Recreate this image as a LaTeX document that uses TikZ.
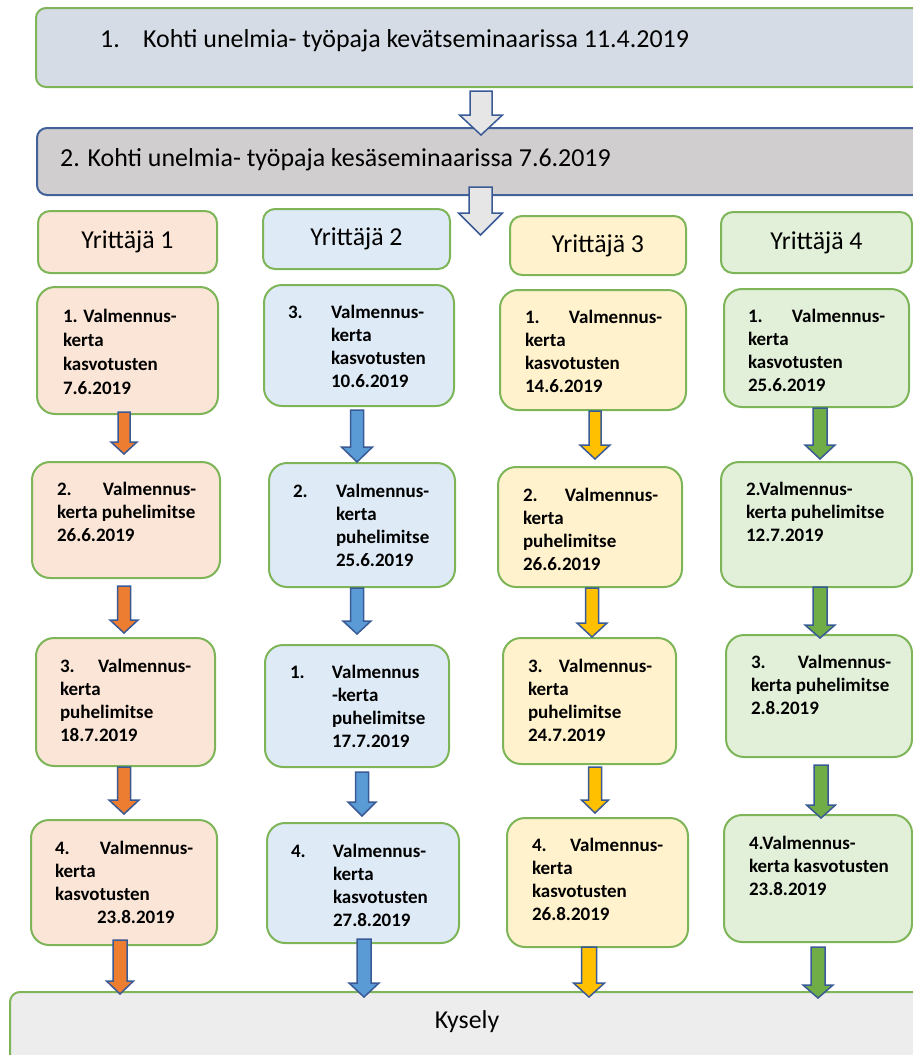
\documentclass[tikz,border=0pt]{standalone}
\usepackage{fontspec}
\setmainfont{Carlito}
\usetikzlibrary{calc}

\definecolor{frame}{HTML}{7DB558}
\definecolor{edgeblue}{HTML}{42609A}
\definecolor{arrowedge}{HTML}{3A5A96}
\definecolor{springfill}{HTML}{D6DCE5}
\definecolor{summerfill}{HTML}{D0CECE}
\definecolor{surveyfill}{HTML}{EDEDED}
\definecolor{hollowfill}{HTML}{E7E6E6}
\definecolor{peach}{HTML}{FBE5D6}
\definecolor{skyblue}{HTML}{DEEBF7}
\definecolor{cream}{HTML}{FFF2CC}
\definecolor{mint}{HTML}{E2F0D9}
\definecolor{arrorange}{HTML}{ED7D31}
\definecolor{arrblue}{HTML}{5B9BD5}
\definecolor{arrgold}{HTML}{FFC000}
\definecolor{arrgreen}{HTML}{70AD47}

% rectangle node given by its corners: name, x1, y1, x2, y2, style
\newcommand\card[6]{%
  \node[#6, minimum width={#4-#2}, minimum height={#5-#3}] (#1)
    at ({(#2+#4)/2},{(#3+#5)/2}) {};}
% block arrow: start, tip, fill, shaft half width, head half width, head length
\newcommand\flowarrow[6]{%
  \path[draw=arrowedge, line width=1.5pt, fill=#3, line join=miter]
    let \p1=(#1), \p2=(#2) in
    (\x1-#4,\y1) -- (\x1+#4,\y1) -- (\x1+#4,\y2+#6) -- (\x1+#5,\y2+#6)
    -- (\x1,\y2) -- (\x1-#5,\y2+#6) -- (\x1-#4,\y2+#6) -- cycle;}
% multi-line step text, anchored at the first baseline
\newcommand\steptext[4]{%
  \node[steptxt] (#1) at (#2,#3) {\begin{tabular}[t]{@{}l@{}}#4\end{tabular}};}
\newcommand\lead[2]{\makebox[#2pt][l]{#1}}
\newcommand\ind[1]{\hspace*{#1pt}}

\tikzset{
  phase/.style={draw=frame, line width=2pt, rounded corners=10pt, inner sep=0pt, outer sep=0pt},
  founder/.style={draw=frame, line width=2pt, rounded corners=12pt, inner sep=0pt, outer sep=0pt,
    font=\fontsize{25.8}{30}\selectfont},
  stepbox/.style={draw=frame, line width=2pt, rounded corners=18pt, inner sep=0pt, outer sep=0pt},
  steptxt/.style={anchor=base west, inner sep=0pt, outer sep=0pt,
    font=\fontsize{19}{23.2}\selectfont\bfseries},
  headtxt/.style={anchor=base west, inner sep=0pt, font=\fontsize{25.9}{30}\selectfont},
}

\begin{document}
\begin{tikzpicture}[x=1pt, y=-1pt]
\useasboundingbox (0,0) rectangle (913,1055);
\clip (0,0) rectangle (913,1055);

% seminars
\card{spring}{36}{8}{940}{87}{phase, fill=springfill}
\node[headtxt] (springtxt) at (100,47) {\makebox[43pt][l]{1.}Kohti unelmia- työpaja kevätseminaarissa 11.4.2019};
\card{summer}{37}{128}{940}{195}{phase, draw=edgeblue, fill=summerfill}
\node[headtxt] (summertxt) at (60,166) {2. Kohti unelmia- työpaja kesäseminaarissa 7.6.2019};

% entrepreneurs
\node[founder, fill=peach, minimum width=179pt, minimum height=62pt] (y1) at (127.5,242) {Yrittäjä 1};
\node[founder, fill=skyblue, minimum width=187pt, minimum height=60pt] (y2) at (356.5,239) {Yrittäjä 2};
\node[founder, fill=cream, minimum width=176pt, minimum height=59pt] (y3) at (598,245.5) {Yrittäjä 3};
\node[founder, fill=mint, minimum width=191pt, minimum height=61pt] (y4) at (816.5,242.5) {Yrittäjä 4};

% column 1
\card{a1}{37}{287}{218}{414}{stepbox, fill=peach}
\card{a2}{32}{462}{220}{578}{stepbox, fill=peach}
\card{a3}{36}{638}{215}{766}{stepbox, fill=peach}
\card{a4}{31}{820}{217}{945}{stepbox, fill=peach}
% column 2
\card{b1}{264}{285}{454}{406}{stepbox, fill=skyblue}
\card{b2}{269}{463}{455}{587}{stepbox, fill=skyblue}
\card{b3}{265}{645}{449}{767}{stepbox, fill=skyblue}
\card{b4}{267}{823}{459}{943}{stepbox, fill=skyblue}
% column 3
\card{c1}{500}{290}{686}{410}{stepbox, fill=cream}
\card{c2}{498}{467}{682}{587}{stepbox, fill=cream}
\card{c3}{503}{638}{676}{764}{stepbox, fill=cream}
\card{c4}{507}{818}{688}{947}{stepbox, fill=cream}
% column 4
\card{d1}{724}{289}{909}{407}{stepbox, fill=mint}
\card{d2}{721}{462}{912}{587}{stepbox, fill=mint}
\card{d3}{726}{635}{912}{757}{stepbox, fill=mint}
\card{d4}{724}{815}{912}{942}{stepbox, fill=mint}

% survey
\card{survey}{10}{992}{935}{1075}{phase, fill=surveyfill}
\node[anchor=center, inner sep=0pt, font=\fontsize{25.8}{30}\selectfont] (surveytxt) at (467,1022) {Kysely};

% step texts
\steptext{a1t}{63}{322}{1. Valmennus-\\[1.1pt]kerta\\[1.1pt]kasvotusten\\[1.1pt]7.6.2019}
\steptext{a2t}{57}{495}{\lead{2.}{46}Valmennus-\\kerta puhelimitse\\26.6.2019}
\steptext{a3t}{60}{672}{\lead{3.}{38}Valmennus-\\kerta\\puhelimitse\\18.7.2019}
\steptext{a4t}{55}{854}{\lead{4.}{45}Valmennus-\\kerta\\kasvotusten\\\ind{42}23.8.2019}

\steptext{b1t}{288}{318}{\lead{3.}{43}Valmennus-\\\ind{43}kerta\\\ind{43}kasvotusten\\\ind{43}10.6.2019}
\steptext{b2t}{293}{497}{\lead{2.}{43}Valmennus-\\\ind{43}kerta\\\ind{43}puhelimitse\\\ind{43}25.6.2019}
\steptext{b3t}{290}{678}{\lead{1.}{42}Valmennus\\\ind{42}-kerta\\\ind{42}puhelimitse\\\ind{42}17.7.2019}
\steptext{b4t}{291}{857}{\lead{4.}{42}Valmennus-\\\ind{42}kerta\\\ind{42}kasvotusten\\\ind{42}27.8.2019}

\steptext{c1t}{525}{323}{\lead{1.}{44}Valmennus-\\kerta\\kasvotusten\\14.6.2019}
\steptext{c2t}{523}{501}{\lead{2.}{42}Valmennus-\\kerta\\puhelimitse\\26.6.2019}
\steptext{c3t}{528}{672}{\lead{3.}{31}Valmennus-\\kerta\\puhelimitse\\24.7.2019}
\steptext{c4t}{532}{851}{\lead{4.}{38}Valmennus-\\kerta\\kasvotusten\\26.8.2019}

\steptext{d1t}{748}{322}{\lead{1.}{44}Valmennus-\\kerta\\kasvotusten\\25.6.2019}
\steptext{d2t}{746}{495}{2.Valmennus-\\kerta puhelimitse\\12.7.2019}
\steptext{d3t}{751}{668}{\lead{3.}{47}Valmennus-\\kerta puhelimitse\\2.8.2019}
\steptext{d4t}{749}{849}{4.Valmennus-\\kerta kasvotusten\\23.8.2019}

% arrow end points
\coordinate (s1) at (481,91);   \coordinate (s1e) at (481,135);
\coordinate (s2) at (480.5,187); \coordinate (s2e) at (480.5,235);

\coordinate (a12) at (124,412); \coordinate (a12e) at (124,454);
\coordinate (a23) at (124,586); \coordinate (a23e) at (124,633);
\coordinate (a34) at (124,767); \coordinate (a34e) at (124,814);
\coordinate (a4k) at (120,940); \coordinate (a4ke) at (120,994);

\coordinate (b12) at (357,410); \coordinate (b12e) at (357,462);
\coordinate (b23) at (357,588); \coordinate (b23e) at (357,634);
\coordinate (b34) at (362,772); \coordinate (b34e) at (362,816);
\coordinate (b4k) at (364,939); \coordinate (b4ke) at (364,997);

\coordinate (c12) at (595,411); \coordinate (c12e) at (595,459);
\coordinate (c23) at (592,588); \coordinate (c23e) at (592,637);
\coordinate (c34) at (595,767); \coordinate (c34e) at (595,813);
\coordinate (c4k) at (589,947); \coordinate (c4ke) at (589,997);

\coordinate (d12) at (820,408); \coordinate (d12e) at (820,459);
\coordinate (d23) at (820,587); \coordinate (d23e) at (820,638);
\coordinate (d34) at (821,765); \coordinate (d34e) at (821,818);
\coordinate (d4k) at (818,947); \coordinate (d4ke) at (818,998);

% arrows
\flowarrow{s1}{s1e}{hollowfill}{11}{21.5}{20}
\flowarrow{s2}{s2e}{hollowfill}{11.5}{22}{22}

\flowarrow{a12}{a12e}{arrorange}{6}{13}{12}
\flowarrow{a23}{a23e}{arrorange}{6.5}{14}{13}
\flowarrow{a34}{a34e}{arrorange}{6.5}{15}{14}
\flowarrow{a4k}{a4ke}{arrorange}{7}{13.5}{13}

\flowarrow{b12}{b12e}{arrblue}{6.5}{15.5}{15}
\flowarrow{b23}{b23e}{arrblue}{6.5}{14}{13}
\flowarrow{b34}{b34e}{arrblue}{6.5}{14}{14}
\flowarrow{b4k}{b4ke}{arrblue}{7}{15}{14}

\flowarrow{c12}{c12e}{arrgold}{6}{15}{14}
\flowarrow{c23}{c23e}{arrgold}{6.5}{15}{14}
\flowarrow{c34}{c34e}{arrgold}{6.5}{13.5}{13}
\flowarrow{c4k}{c4ke}{arrgold}{7.5}{15.5}{14}

\flowarrow{d12}{d12e}{arrgreen}{7}{15}{14}
\flowarrow{d23}{d23e}{arrgreen}{7}{15}{13}
\flowarrow{d34}{d34e}{arrgreen}{7}{14.5}{13}
\flowarrow{d4k}{d4ke}{arrgreen}{7}{15}{13}
\end{tikzpicture}
\end{document}
